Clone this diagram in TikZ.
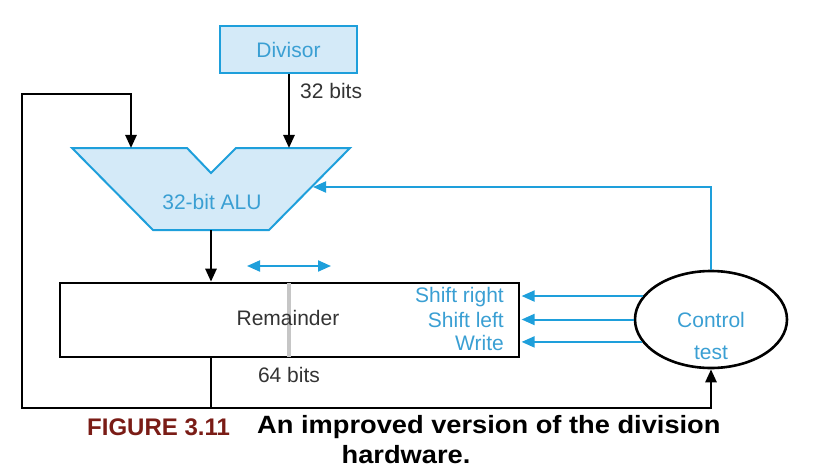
\documentclass[tikz,border=0pt]{standalone}
\usepackage{fontspec}
\setmainfont{Liberation Sans}
\newfontfamily\capfont[FakeStretch=1.09]{Liberation Sans}
\usepackage{xcolor}
\usepackage{tikz}
\usetikzlibrary{shapes.geometric, arrows.meta, calc}
\definecolor{hwblue}{HTML}{1E9FDB}
\definecolor{hwfill}{HTML}{D4EAF8}
\definecolor{hwtext}{HTML}{3A9FD3}
\definecolor{hwred}{HTML}{7A1C16}
\definecolor{hwgray}{HTML}{333333}

\begin{document}
\begin{tikzpicture}[x=1pt, y=-1pt, inner sep=0pt,
  >={Triangle[length=13pt,width=11pt]},
  font=\fontsize{21}{25}\selectfont,
  blk/.style={line width=2.6pt, black},
  blu/.style={line width=2pt, hwblue},
  captxt/.style={anchor=west, font=\capfont\bfseries\fontsize{25}{29}\selectfont}]
\useasboundingbox (0,0) rectangle (824,476);
\node[draw=hwblue, fill=hwfill, line width=2pt, minimum width=137pt, minimum height=47pt, text=hwtext] (divisor) at (288.5,49.5) {Divisor};
\node[text=hwgray, anchor=west] (dbits) at (300,91) {32 bits};
\draw[blu, fill=hwfill, line join=miter] (72,148) -- (187,148) -- (211,173) -- (236,148) -- (350,148) -- (269,230) -- (153,230) -- cycle;
\node[text=hwtext] (alu) at (212,202) {32-bit ALU};
\coordinate (aluA) at (131,148);
\coordinate (aluB) at (289,148);
\coordinate (aluC) at (211,230);
\coordinate (aluD) at (313,187);
\node[draw, line width=2.6pt, minimum width=459pt, minimum height=74pt] (rem) at (289.5,320) {};
\draw[gray!45, line width=4.5pt, shorten >=1.3pt, shorten <=1.3pt] (rem.north -| aluB) -- (rem.south -| aluB);
\node[text=hwgray] (remtxt) at (288,318) {Remainder};
\node[text=hwgray] (rbits) at (289,375) {64 bits};
\node[text=hwtext, anchor=east] (shr) at (504,297) {Shift right};
\node[text=hwtext, anchor=east] (shl) at (504,320) {Shift left};
\node[text=hwtext, anchor=east] (wr) at (504,343) {Write};
\node[draw, ellipse, line width=2.6pt, minimum width=152pt, minimum height=97pt] (control) at (711,319.5) {};
\node[text=hwtext] (ctl) at (711,320) {Control};
\node[text=hwtext] (tst) at (711,353) {test};
\coordinate (shL) at (247,266);
\coordinate (shR) at (331,266);
\coordinate (loopA) at (211,408);
\coordinate (loopB) at (22,408);
\coordinate (loopC) at (22,94);
\draw[blk, ->] (divisor.south -| aluB) -- (aluB);
\draw[blk, ->] (aluC) -- (aluC |- rem.north);
\draw[blk, ->] (rem.south -| aluC) -- (loopA) -- (loopB) -- (loopC) -- (loopC -| aluA) -- (aluA);
\draw[blk, ->] (loopA) -- (loopA -| control) -- (control.south);
\draw[blu, ->] (control.north) -- (control.north |- aluD) -- (aluD);
\draw[blu, <->] (shL) -- (shR);
\draw[blu, ->, shorten >=1.3pt] (control.161.5) -- (control.161.5 -| rem.east);
\draw[blu, ->, shorten >=1.3pt] (control.west) -- (rem.east |- control.west);
\draw[blu, ->, shorten >=1.3pt] (control.198.5) -- (control.198.5 -| rem.east);
\node[anchor=west, text=hwred, font=\bfseries\fontsize{24}{28}\selectfont] (fig) at (87,427) {FIGURE 3.11};
\node[captxt] (cap1) at (257,427) {An improved version of the division};
\node[captxt, anchor=center] (cap2) at (406,455) {hardware.};
\end{tikzpicture}
\end{document}
